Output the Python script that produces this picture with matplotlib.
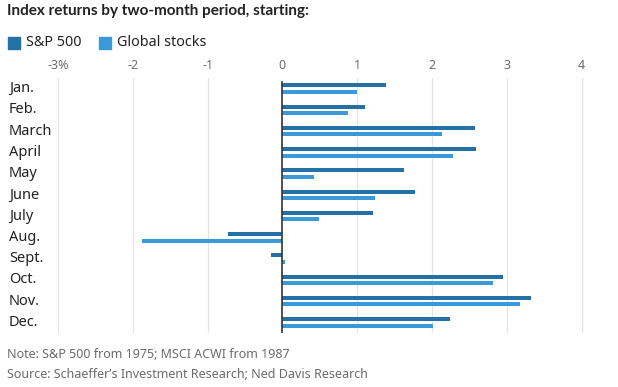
import matplotlib.pyplot as plt
from matplotlib.patches import Rectangle
from matplotlib.transforms import blended_transform_factory

# Data
months = ["Jan.", "Feb.", "March", "April", "May", "June",
          "July", "Aug.", "Sept.", "Oct.", "Nov.", "Dec."]
sp500 = [1.39, 1.10, 2.57, 2.59, 1.63, 1.78, 1.21, -0.73, -0.15, 2.95, 3.32, 2.24]
global_stocks = [1.00, 0.88, 2.14, 2.28, 0.42, 1.24, 0.49, -1.88, 0.03, 2.82, 3.18, 2.01]
xticks = [-3, -2, -1, 0, 1, 2, 3, 4]
xtick_labels = ["-3%", "-2", "-1", "0", "1", "2", "3", "4"]

SP_COLOR = "#2570a4"
GL_COLOR = "#3a9ad9"
GRID = "#e3e3e3"
TXT = "#222222"
GREY = "#6b6b6b"

plt.rcParams["font.family"] = ["Noto Sans", "DejaVu Sans"]

W, H = 618, 387
fig = plt.figure(figsize=(W / 100, H / 100), dpi=100)

# axes placed in pixel coords: left 58, right 589, top 78, bottom 333
left, right, top, bottom = 58, 589, 78, 333
ax = fig.add_axes([left / W, 1 - bottom / H, (right - left) / W, (bottom - top) / H])

ypos = list(range(len(months)))
bh = 0.19
off = 0.15
ax.barh([y - off for y in ypos], sp500, height=bh, color=SP_COLOR, zorder=3)
ax.barh([y + off for y in ypos], global_stocks, height=bh, color=GL_COLOR, zorder=3)

ax.set_xlim(-3, 4.1)
ax.set_ylim(11.5, -0.5)
for t in xticks:
    if t != 0:
        ax.axvline(t, color=GRID, lw=0.9, zorder=1)
ax.axvline(0, color="#333333", lw=1.2, zorder=4, ymax=0.985)

ax.set_xticks(xticks)
ax.set_xticklabels(xtick_labels)
ax.xaxis.tick_top()
ax.tick_params(axis="x", length=0, pad=4, labelsize=9, labelcolor=GREY)
ax.set_yticks([])
for s in ax.spines.values():
    s.set_visible(False)

# month labels, left aligned at figure x ~ 10 px
trans = blended_transform_factory(fig.transFigure, ax.transData)
for y, m in zip(ypos, months):
    ax.text(9 / W, y, m, transform=trans, ha="left", va="center",
            fontsize=10.5, color=TXT)

# title
fig.text(7 / W, 1 - 11 / H, "Index returns by two-month period, starting:",
         fontsize=11, fontweight="bold", color=TXT, ha="left", va="center",
         family=["Lato", "DejaVu Sans"])

# legend
for x0, col, label in [(8, SP_COLOR, "S&P 500"), (99, GL_COLOR, "Global stocks")]:
    fig.patches.append(Rectangle((x0 / W, 1 - 49 / H), 12 / W, 12 / H,
                                 transform=fig.transFigure, color=col))
    fig.text((x0 + 18) / W, 1 - 43 / H, label, fontsize=10.3, color=TXT,
             ha="left", va="center")

# footnotes
fig.text(7 / W, 1 - 355 / H, "Note: S&P 500 from 1975; MSCI ACWI from 1987",
         fontsize=9, color=GREY, ha="left", va="center")
fig.text(7 / W, 1 - 375 / H, "Source: Schaeffer\u2019s Investment Research; Ned Davis Research",
         fontsize=9, color=GREY, ha="left", va="center")

fig.savefig("out.png", dpi=100)
